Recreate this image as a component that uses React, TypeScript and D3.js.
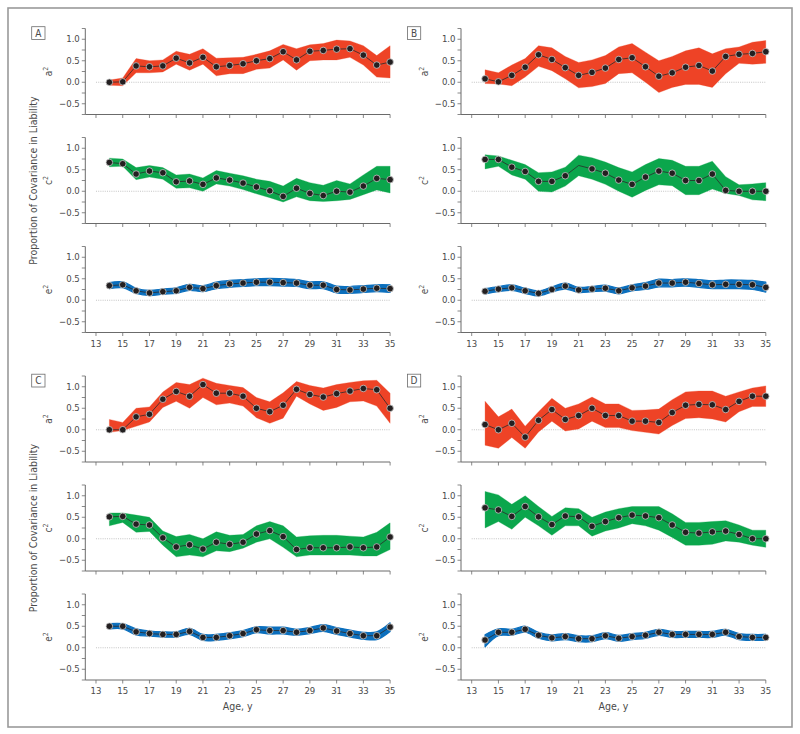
import React from "react";
import * as d3 from "d3";

// ---------- data ----------
const ages = [14, 15, 16, 17, 18, 19, 20, 21, 22, 23, 24, 25, 26, 27, 28, 29, 30, 31, 32, 33, 34, 35];
const xTickAges = [13, 15, 17, 19, 21, 23, 25, 27, 29, 31, 33, 35];
const yTickValues = [-0.5, 0, 0.5, 1.0];
const yMinorTicks = [-0.75, -0.5, -0.25, 0, 0.25, 0.5, 0.75, 1.0, 1.25];
const panelLetters = ["A", "B", "C", "D"];
const componentLabels = ["a", "c", "e"];

// Panel A
const A_a2 = [0.0, 0.01, 0.38, 0.36, 0.38, 0.56, 0.45, 0.58, 0.36, 0.39, 0.43, 0.5, 0.55, 0.71, 0.52, 0.72, 0.74, 0.77, 0.78, 0.63, 0.4, 0.47];
const A_a2Hi = [0.05, 0.1, 0.55, 0.5, 0.52, 0.72, 0.65, 0.78, 0.56, 0.57, 0.58, 0.65, 0.73, 0.88, 0.78, 0.87, 0.9, 0.98, 0.96, 0.85, 0.62, 0.85];
const A_a2Lo = [-0.07, -0.08, 0.22, 0.22, 0.24, 0.42, 0.28, 0.42, 0.15, 0.2, 0.2, 0.3, 0.33, 0.52, 0.28, 0.5, 0.52, 0.52, 0.58, 0.4, 0.12, 0.1];
const A_c2 = [0.67, 0.64, 0.4, 0.47, 0.43, 0.22, 0.24, 0.16, 0.31, 0.26, 0.19, 0.1, 0.01, -0.12, 0.07, -0.05, -0.1, 0.0, -0.02, 0.12, 0.3, 0.27];
const A_c2Hi = [0.77, 0.75, 0.55, 0.6, 0.55, 0.38, 0.4, 0.31, 0.48, 0.42, 0.36, 0.28, 0.23, 0.12, 0.3, 0.2, 0.14, 0.25, 0.17, 0.38, 0.58, 0.58];
const A_c2Lo = [0.57, 0.58, 0.27, 0.33, 0.28, 0.07, 0.08, 0.0, 0.17, 0.12, 0.04, -0.06, -0.15, -0.25, -0.13, -0.22, -0.24, -0.22, -0.19, -0.08, 0.03, -0.04];
const A_e2 = [0.34, 0.36, 0.22, 0.17, 0.2, 0.22, 0.3, 0.27, 0.34, 0.38, 0.4, 0.42, 0.42, 0.41, 0.4, 0.35, 0.35, 0.25, 0.24, 0.26, 0.28, 0.27];
const A_e2Hi = [0.41, 0.43, 0.28, 0.23, 0.26, 0.29, 0.37, 0.34, 0.42, 0.46, 0.48, 0.5, 0.51, 0.5, 0.48, 0.43, 0.43, 0.33, 0.32, 0.34, 0.36, 0.36];
const A_e2Lo = [0.27, 0.29, 0.16, 0.11, 0.14, 0.16, 0.23, 0.2, 0.27, 0.3, 0.32, 0.34, 0.34, 0.33, 0.32, 0.27, 0.27, 0.17, 0.16, 0.18, 0.2, 0.18];

// Panel B
const B_a2 = [0.08, 0.01, 0.16, 0.35, 0.64, 0.53, 0.34, 0.16, 0.23, 0.33, 0.53, 0.57, 0.36, 0.14, 0.22, 0.35, 0.39, 0.26, 0.6, 0.65, 0.67, 0.71];
const B_a2Hi = [0.29, 0.22, 0.4, 0.55, 0.85, 0.8, 0.6, 0.46, 0.52, 0.62, 0.82, 0.9, 0.7, 0.5, 0.6, 0.73, 0.8, 0.66, 0.78, 0.82, 0.93, 0.97];
const B_a2Lo = [-0.03, -0.04, -0.08, 0.12, 0.37, 0.27, 0.08, -0.13, -0.1, -0.03, 0.2, 0.22, 0.0, -0.24, -0.12, -0.05, -0.05, -0.12, 0.2, 0.44, 0.42, 0.44];
const B_c2 = [0.74, 0.74, 0.56, 0.46, 0.23, 0.23, 0.36, 0.6, 0.52, 0.42, 0.26, 0.16, 0.33, 0.47, 0.42, 0.25, 0.25, 0.4, 0.02, 0.0, 0.0, 0.0];
const B_c2Hi = [0.85, 0.82, 0.72, 0.62, 0.43, 0.45, 0.56, 0.84, 0.78, 0.68, 0.55, 0.45, 0.62, 0.76, 0.72, 0.58, 0.58, 0.7, 0.34, 0.15, 0.17, 0.2];
const B_c2Lo = [0.52, 0.58, 0.38, 0.28, 0.0, -0.02, 0.12, 0.36, 0.28, 0.16, 0.0, -0.14, 0.02, 0.15, 0.13, -0.08, -0.08, 0.05, -0.05, -0.1, -0.2, -0.22];
const B_c2NoDot = [21];
const B_e2 = [0.21, 0.26, 0.29, 0.22, 0.16, 0.25, 0.33, 0.24, 0.26, 0.28, 0.22, 0.29, 0.33, 0.4, 0.4, 0.42, 0.39, 0.36, 0.37, 0.37, 0.36, 0.3];
const B_e2Hi = [0.27, 0.32, 0.36, 0.28, 0.22, 0.31, 0.4, 0.3, 0.32, 0.35, 0.29, 0.36, 0.41, 0.49, 0.48, 0.5, 0.48, 0.45, 0.47, 0.47, 0.46, 0.42];
const B_e2Lo = [0.15, 0.2, 0.23, 0.16, 0.1, 0.19, 0.26, 0.18, 0.2, 0.21, 0.15, 0.22, 0.25, 0.31, 0.31, 0.33, 0.3, 0.27, 0.27, 0.27, 0.25, 0.19];

// Panel C
const C_a2 = [0.0, 0.0, 0.3, 0.36, 0.71, 0.89, 0.78, 1.05, 0.85, 0.85, 0.78, 0.5, 0.42, 0.57, 0.94, 0.82, 0.76, 0.84, 0.9, 0.96, 0.93, 0.5];
const C_a2Hi = [0.24, 0.17, 0.5, 0.53, 0.88, 1.1, 1.05, 1.2, 1.08, 1.03, 0.98, 0.75, 0.65, 0.86, 1.12, 1.03, 0.97, 1.05, 1.1, 1.14, 1.15, 0.85];
const C_a2Lo = [-0.06, -0.02, 0.08, 0.18, 0.52, 0.66, 0.5, 0.75, 0.58, 0.62, 0.55, 0.28, 0.15, 0.27, 0.78, 0.6, 0.45, 0.52, 0.65, 0.67, 0.55, 0.15];
const C_c2 = [0.51, 0.52, 0.34, 0.32, 0.02, -0.19, -0.14, -0.24, -0.08, -0.13, -0.08, 0.11, 0.19, 0.05, -0.25, -0.21, -0.21, -0.21, -0.19, -0.21, -0.19, 0.04];
const C_c2Hi = [0.6, 0.6, 0.55, 0.5, 0.18, 0.05, 0.1, 0.0, 0.16, 0.08, 0.1, 0.3, 0.4, 0.3, 0.04, 0.07, 0.08, 0.08, 0.06, 0.04, 0.15, 0.37];
const C_c2Lo = [0.3, 0.38, 0.15, 0.17, -0.15, -0.42, -0.38, -0.42, -0.28, -0.3, -0.22, -0.08, 0.0, -0.2, -0.42, -0.38, -0.38, -0.38, -0.38, -0.4, -0.4, -0.25];
const C_e2 = [0.5, 0.5, 0.37, 0.33, 0.31, 0.31, 0.38, 0.24, 0.24, 0.28, 0.33, 0.42, 0.4, 0.4, 0.36, 0.4, 0.46, 0.39, 0.33, 0.28, 0.28, 0.48];
const C_e2Hi = [0.56, 0.56, 0.44, 0.39, 0.37, 0.37, 0.45, 0.31, 0.31, 0.35, 0.4, 0.49, 0.48, 0.48, 0.43, 0.47, 0.54, 0.47, 0.41, 0.36, 0.37, 0.58];
const C_e2Lo = [0.44, 0.44, 0.3, 0.27, 0.25, 0.25, 0.31, 0.17, 0.17, 0.21, 0.26, 0.35, 0.32, 0.32, 0.29, 0.33, 0.38, 0.31, 0.25, 0.2, 0.19, 0.38];

// Panel D
const D_a2 = [0.12, 0.0, 0.15, -0.17, 0.22, 0.47, 0.24, 0.33, 0.5, 0.33, 0.33, 0.2, 0.2, 0.17, 0.4, 0.57, 0.59, 0.58, 0.47, 0.66, 0.78, 0.78];
const D_a2Hi = [0.66, 0.3, 0.48, 0.08, 0.42, 0.73, 0.5, 0.6, 0.76, 0.6, 0.6, 0.45, 0.46, 0.48, 0.7, 0.88, 0.9, 0.9, 0.78, 0.88, 0.97, 1.02];
const D_a2Lo = [-0.36, -0.43, -0.18, -0.43, -0.05, 0.2, -0.03, 0.02, 0.2, 0.05, 0.05, -0.02, -0.06, -0.1, 0.1, 0.26, 0.28, 0.25, 0.18, 0.42, 0.54, 0.54];
const D_c2 = [0.72, 0.67, 0.52, 0.75, 0.51, 0.33, 0.53, 0.51, 0.29, 0.4, 0.49, 0.55, 0.53, 0.49, 0.32, 0.15, 0.13, 0.16, 0.18, 0.1, 0.0, 0.0];
const D_c2Hi = [1.1, 1.02, 0.8, 1.0, 0.75, 0.52, 0.72, 0.7, 0.5, 0.62, 0.7, 0.75, 0.75, 0.75, 0.58, 0.38, 0.38, 0.4, 0.42, 0.32, 0.2, 0.2];
const D_c2Lo = [0.25, 0.4, 0.22, 0.5, 0.3, 0.08, 0.3, 0.3, 0.06, 0.18, 0.25, 0.35, 0.3, 0.2, 0.03, -0.15, -0.15, -0.13, -0.05, -0.08, -0.15, -0.2];
const D_e2 = [0.18, 0.36, 0.36, 0.43, 0.29, 0.23, 0.26, 0.21, 0.21, 0.28, 0.22, 0.26, 0.29, 0.36, 0.31, 0.31, 0.31, 0.31, 0.36, 0.26, 0.24, 0.24];
const D_e2Hi = [0.3, 0.44, 0.43, 0.5, 0.36, 0.3, 0.33, 0.28, 0.28, 0.35, 0.29, 0.33, 0.36, 0.43, 0.38, 0.38, 0.38, 0.38, 0.43, 0.33, 0.31, 0.31];
const D_e2Lo = [0.02, 0.28, 0.29, 0.36, 0.22, 0.16, 0.19, 0.14, 0.14, 0.21, 0.15, 0.19, 0.22, 0.29, 0.24, 0.24, 0.24, 0.24, 0.29, 0.19, 0.17, 0.17];

// ---------- styles ----------
const FONT = "'Liberation Sans Narrow', 'Arial Narrow', 'DejaVu Sans Condensed', 'Liberation Sans', sans-serif";
const COLORS = ["#EE4326", "#0BA64C", "#0B6FBD"];
const AXIS_COLOR = "#6b6b6b";
const TEXT_COLOR = "#4a4a4a";

const PANEL_AXIS_X = [85.3, 461, 85.3, 461];
const PANEL_TOP = [28.5, 28.5, 376, 376];
const SUB_H = 86;
const SUB_STEP = 109;
const PLOT_W = 304.8;

type Series = { est: number[]; lo: number[]; hi: number[]; noDot?: number[] };

const panelData: Series[][] = [
  [
    { est: A_a2, lo: A_a2Lo, hi: A_a2Hi },
    { est: A_c2, lo: A_c2Lo, hi: A_c2Hi },
    { est: A_e2, lo: A_e2Lo, hi: A_e2Hi },
  ],
  [
    { est: B_a2, lo: B_a2Lo, hi: B_a2Hi },
    { est: B_c2, lo: B_c2Lo, hi: B_c2Hi, noDot: B_c2NoDot },
    { est: B_e2, lo: B_e2Lo, hi: B_e2Hi },
  ],
  [
    { est: C_a2, lo: C_a2Lo, hi: C_a2Hi },
    { est: C_c2, lo: C_c2Lo, hi: C_c2Hi },
    { est: C_e2, lo: C_e2Lo, hi: C_e2Hi },
  ],
  [
    { est: D_a2, lo: D_a2Lo, hi: D_a2Hi },
    { est: D_c2, lo: D_c2Lo, hi: D_c2Hi },
    { est: D_e2, lo: D_e2Lo, hi: D_e2Hi },
  ],
];

const fmt = d3.format(".1f");

function Subplot(props: {
  axisX: number;
  top: number;
  series: Series;
  color: string;
  label: string;
  smooth: boolean;
  showXLabels: boolean;
}) {
  const { axisX, top, series, color, label, smooth, showXLabels } = props;
  const x = d3.scaleLinear().domain([12.2, 35]).range([axisX, axisX + PLOT_W]);
  const y = d3.scaleLinear().domain([-0.75, 1.25]).range([top + SUB_H, top]);
  const rows = ages.map((a, i) => ({ age: a, est: series.est[i], lo: series.lo[i], hi: series.hi[i] }));
  const curve = smooth ? d3.curveCatmullRom.alpha(0.5) : d3.curveLinear;
  const area = d3
    .area<any>()
    .x((d) => x(d.age))
    .y0((d) => y(d.lo))
    .y1((d) => y(d.hi))
    .curve(curve);
  const line = d3
    .line<any>()
    .x((d) => x(d.age))
    .y((d) => y(d.est));
  const bottom = y(-0.75);
  const noDot = series.noDot || [];
  return (
    <g>
      {/* zero reference */}
      <line x1={x(13)} x2={x(35)} y1={y(0)} y2={y(0)} stroke="#b5b5b5" strokeWidth={0.8} strokeDasharray="1,1.2" />
      {/* band */}
      <path d={area(rows) || ""} fill={color} stroke={color} strokeWidth={smooth ? 1.2 : 0.3} strokeLinejoin="round" />
      {/* line */}
      <path d={line(rows) || ""} fill="none" stroke="#2b2b2b" strokeWidth={0.8} />
      {rows
        .filter((d) => noDot.indexOf(d.age) < 0)
        .map((d) => (
          <circle key={d.age} cx={x(d.age)} cy={y(d.est)} r={3.3} fill="#231f20" stroke="#c8c8c8" strokeWidth={0.8} />
        ))}
      {/* y axis */}
      <line x1={axisX} x2={axisX} y1={y(1.25)} y2={bottom} stroke={AXIS_COLOR} strokeWidth={1} />
      {yMinorTicks.map((v) => (
        <line key={"m" + v} x1={axisX - 3.5} x2={axisX} y1={y(v)} y2={y(v)} stroke={AXIS_COLOR} strokeWidth={0.8} />
      ))}
      {yTickValues.map((v) => (
        <text
          key={"t" + v}
          x={axisX - 5.5}
          y={y(v)}
          dy="0.34em"
          textAnchor="end"
          fontSize={9.5}
          fill={TEXT_COLOR}
          fontFamily={FONT}
        >
          {fmt(v)}
        </text>
      ))}
      {/* x axis */}
      <line x1={axisX} x2={x(35)} y1={bottom} y2={bottom} stroke={AXIS_COLOR} strokeWidth={1} />
      {xTickAges.map((a) => (
        <line key={"x" + a} x1={x(a)} x2={x(a)} y1={bottom} y2={bottom + 3.5} stroke={AXIS_COLOR} strokeWidth={0.8} />
      ))}
      {showXLabels &&
        xTickAges.map((a) => (
          <text key={"xl" + a} x={x(a)} y={bottom + 11} dy="0.34em" textAnchor="middle" fontSize={9.5} fill={TEXT_COLOR} fontFamily={FONT}>
            {a}
          </text>
        ))}
      {/* component label */}
      <text
        transform={`translate(${axisX - 33},${y(0.25)}) rotate(-90)`}
        textAnchor="middle"
        fontSize={10}
        fill={TEXT_COLOR}
        fontFamily={FONT}
      >
        {label}
        <tspan fontSize={7} dy="-4">
          2
        </tspan>
      </text>
    </g>
  );
}

export default function App() {
  return (
    <svg width={800} height={734} style={{ position: "absolute", left: 0, top: 0, background: "#fff" }}>
      <rect x={8} y={8} width={784} height={719} fill="#fff" stroke="#9a9a9a" strokeWidth={1.6} />
      {panelLetters.map((letter, p) => {
        const axisX = PANEL_AXIS_X[p];
        const top = PANEL_TOP[p];
        return (
          <g key={letter}>
            <rect x={axisX - 53.6} y={top - 1.8} width={13.3} height={12.8} fill="#fff" stroke="#6b6b6b" strokeWidth={0.8} />
            <text x={axisX - 46.95} y={top + 4.6} dy="0.35em" textAnchor="middle" fontSize={10} fill={TEXT_COLOR} fontFamily={FONT}>
              {letter}
            </text>
            {componentLabels.map((c, k) => (
              <Subplot
                key={c}
                axisX={axisX}
                top={top + k * SUB_STEP}
                series={panelData[p][k]}
                color={COLORS[k]}
                label={c}
                smooth={k === 2}
                showXLabels={k === 2}
              />
            ))}
            {p % 2 === 0 && (
              <text
                transform={`translate(${axisX - 48},${top + SUB_STEP + SUB_H / 2}) rotate(-90)`}
                textAnchor="middle"
                fontSize={10.5}
                fill={TEXT_COLOR}
                fontFamily={FONT}
              >
                Proportion of Covariance in Liability
              </text>
            )}
            {p >= 2 && (
              <text
                x={axisX + PLOT_W / 2}
                y={top + 2 * SUB_STEP + SUB_H + 26}
                dy="0.34em"
                textAnchor="middle"
                fontSize={10.5}
                fill={TEXT_COLOR}
                fontFamily={FONT}
              >
                Age, y
              </text>
            )}
          </g>
        );
      })}
    </svg>
  );
}
